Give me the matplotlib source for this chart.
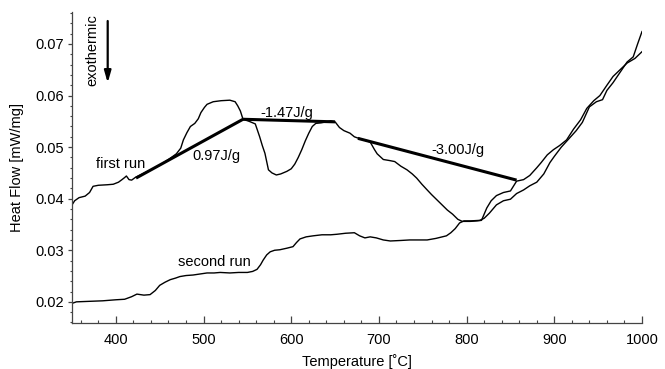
import matplotlib
matplotlib.use("Agg")
import matplotlib.pyplot as plt
from matplotlib.ticker import MultipleLocator

plt.rcParams['font.family'] = ['Liberation Sans', 'DejaVu Sans']

# ---- data ----
first_T = [350, 353, 358, 365, 370, 374, 380, 390, 397, 403, 407, 410, 412, 415, 418, 422, 428,
           440, 450, 460, 469, 474, 477, 481, 485, 490, 494, 497, 501, 504, 511, 520, 530, 536,
           539, 542, 545, 552, 559, 564, 567, 570, 574, 578, 583, 588, 595, 600, 604, 608, 612,
           616, 620, 624, 628, 634, 640, 645, 650, 655, 660, 667, 672, 677, 683, 690, 695, 698,
           705, 712, 718, 725, 732, 738, 743, 749, 755, 760, 766, 772, 778, 784, 790, 795, 804,
           812, 817, 820, 823, 828, 834, 842, 850, 857, 865, 872, 880, 885, 892, 899, 906, 914,
           922, 930, 937, 945, 952, 960, 967, 975, 983, 992, 1000]
first_V = [0.0388, 0.0396, 0.0402, 0.0405, 0.0412, 0.0424, 0.0426, 0.0427, 0.0428, 0.0432, 0.0437,
           0.0441, 0.0444, 0.0437, 0.0436, 0.0441, 0.0446, 0.0456, 0.0465, 0.0476, 0.0487, 0.0498,
           0.0514, 0.0528, 0.0540, 0.0546, 0.0555, 0.0567, 0.0577, 0.0583, 0.0588, 0.0590, 0.0591,
           0.0588, 0.0580, 0.0570, 0.0554, 0.0550, 0.0545, 0.0520, 0.0503, 0.0488, 0.0456, 0.0450,
           0.0446, 0.0448, 0.0453, 0.0458, 0.0467, 0.0480, 0.0495, 0.0512, 0.0527, 0.0540, 0.0546,
           0.0547, 0.0549, 0.0551, 0.0549, 0.0538, 0.0532, 0.0527, 0.0520, 0.0517, 0.0514, 0.0510,
           0.0495, 0.0487, 0.0476, 0.0474, 0.0472, 0.0463, 0.0456, 0.0448, 0.0440, 0.0428, 0.0417,
           0.0408, 0.0398, 0.0388, 0.0378, 0.0370, 0.0360, 0.0356, 0.0356, 0.0357, 0.0358, 0.0370,
           0.0382, 0.0396, 0.0406, 0.0412, 0.0415, 0.0434, 0.0437, 0.0445, 0.0460, 0.0470, 0.0485,
           0.0495, 0.0503, 0.0514, 0.0535, 0.0553, 0.0575, 0.0590, 0.0600, 0.0620, 0.0637, 0.0650,
           0.0663, 0.0672, 0.0685]

second_T = [350, 355, 370, 385, 400, 410, 418, 424, 432, 439, 445, 450, 456, 462, 468, 473, 480,
            488, 496, 504, 512, 519, 530, 540, 550, 556, 561, 565, 568, 572, 576, 581, 587, 595,
            602, 606, 610, 617, 625, 635, 645, 652, 662, 672, 678, 684, 690, 697, 705, 713, 725,
            735, 745, 755, 765, 777, 782, 787, 792, 797, 805, 815, 820, 826, 834, 842, 850, 857,
            865, 872, 880, 888, 895, 900, 908, 916, 925, 932, 940, 948, 955, 960, 967, 975, 983,
            990, 995, 1000]
second_V = [0.0197, 0.0200, 0.0201, 0.0202, 0.0204, 0.0205, 0.0210, 0.0215, 0.0213, 0.0214, 0.0222,
            0.0232, 0.0238, 0.0243, 0.0246, 0.0249, 0.0251, 0.0252, 0.0254, 0.0256, 0.0256, 0.0257,
            0.0256, 0.0257, 0.0257, 0.0259, 0.0263, 0.0272, 0.0281, 0.0291, 0.0297, 0.0300, 0.0301,
            0.0304, 0.0307, 0.0315, 0.0322, 0.0326, 0.0328, 0.0330, 0.0330, 0.0331, 0.0333, 0.0334,
            0.0328, 0.0324, 0.0326, 0.0324, 0.0320, 0.0318, 0.0319, 0.0320, 0.0320, 0.0320, 0.0323,
            0.0328, 0.0334, 0.0342, 0.0353, 0.0357, 0.0357, 0.0358, 0.0362, 0.0372, 0.0388, 0.0396,
            0.0399, 0.0410, 0.0417, 0.0425, 0.0432, 0.0448, 0.0470, 0.0482, 0.0500, 0.0515, 0.0532,
            0.0548, 0.0578, 0.0588, 0.0592, 0.0610, 0.0625, 0.0645, 0.0665, 0.0675, 0.0700, 0.0724]

# baselines (integration limits)
baseline_T = [[423, 545], [545, 650], [676, 857]]
baseline_V = [[0.0440, 0.0554], [0.0554, 0.0549], [0.0517, 0.0436]]

# annotations: text, T, V
labels = [("first run", 405, 0.0467),
          ("0.97J/g", 515, 0.0483),
          ("-1.47J/g", 595, 0.0566),
          ("-3.00J/g", 790, 0.0495),
          ("second run", 512, 0.0278)]

xticks = [400, 500, 600, 700, 800, 900, 1000]
yticks = [0.02, 0.03, 0.04, 0.05, 0.06, 0.07]

# ---- figure ----
fig = plt.figure(figsize=(6.65, 3.69), dpi=100)
ax = fig.add_axes([0.1083, 0.1247, 0.8571, 0.8428])

ax.plot(first_T, first_V, color='black', lw=1.0)
ax.plot(second_T, second_V, color='black', lw=1.0)
for bt, bv in zip(baseline_T, baseline_V):
    ax.plot(bt, bv, color='black', lw=2.2, solid_capstyle='butt')

for txt, t, v in labels:
    ax.text(t, v, txt, ha='center', va='center', fontsize=10.5)

# exothermic marker (axes coordinates)
ax.text(0.036, 0.878, "exothermic", rotation=90, ha='center', va='center',
        fontsize=10.5, transform=ax.transAxes)
ax.annotate("", xy=(0.0626, 0.772), xytext=(0.0626, 0.971), xycoords='axes fraction',
            arrowprops=dict(arrowstyle='-|>,head_length=0.7,head_width=0.2', color='black',
                            lw=1.6, shrinkA=0, shrinkB=0))

ax.set_xlim(350, 1000)
ax.set_ylim(0.0159, 0.0762)
ax.set_xticks(xticks)
ax.set_yticks(yticks)
ax.set_yticklabels([f"{y:.2f}" for y in yticks])
ax.xaxis.set_minor_locator(MultipleLocator(20))
ax.yaxis.set_minor_locator(MultipleLocator(0.002))

spine_col = '#444444'
for s in ['top', 'right']:
    ax.spines[s].set_visible(False)
for s in ['left', 'bottom']:
    ax.spines[s].set_color(spine_col)
    ax.spines[s].set_linewidth(0.9)

ax.tick_params(axis='x', which='major', direction='in', length=5, width=0.9, color=spine_col,
               labelsize=10.5, pad=7)
ax.tick_params(axis='x', which='minor', direction='in', length=2.5, width=0.8, color=spine_col)
ax.tick_params(axis='y', which='major', direction='out', length=3, width=0.9, color=spine_col,
               labelsize=10.5, pad=3)
ax.tick_params(axis='y', which='minor', direction='out', length=1.5, width=0.8, color=spine_col)

ax.set_xlabel("Temperature [˚C]", fontsize=10.5, labelpad=5)
ax.set_ylabel("Heat Flow [mW/mg]", fontsize=10.5, labelpad=8)

fig.savefig("out.png", dpi=100)
